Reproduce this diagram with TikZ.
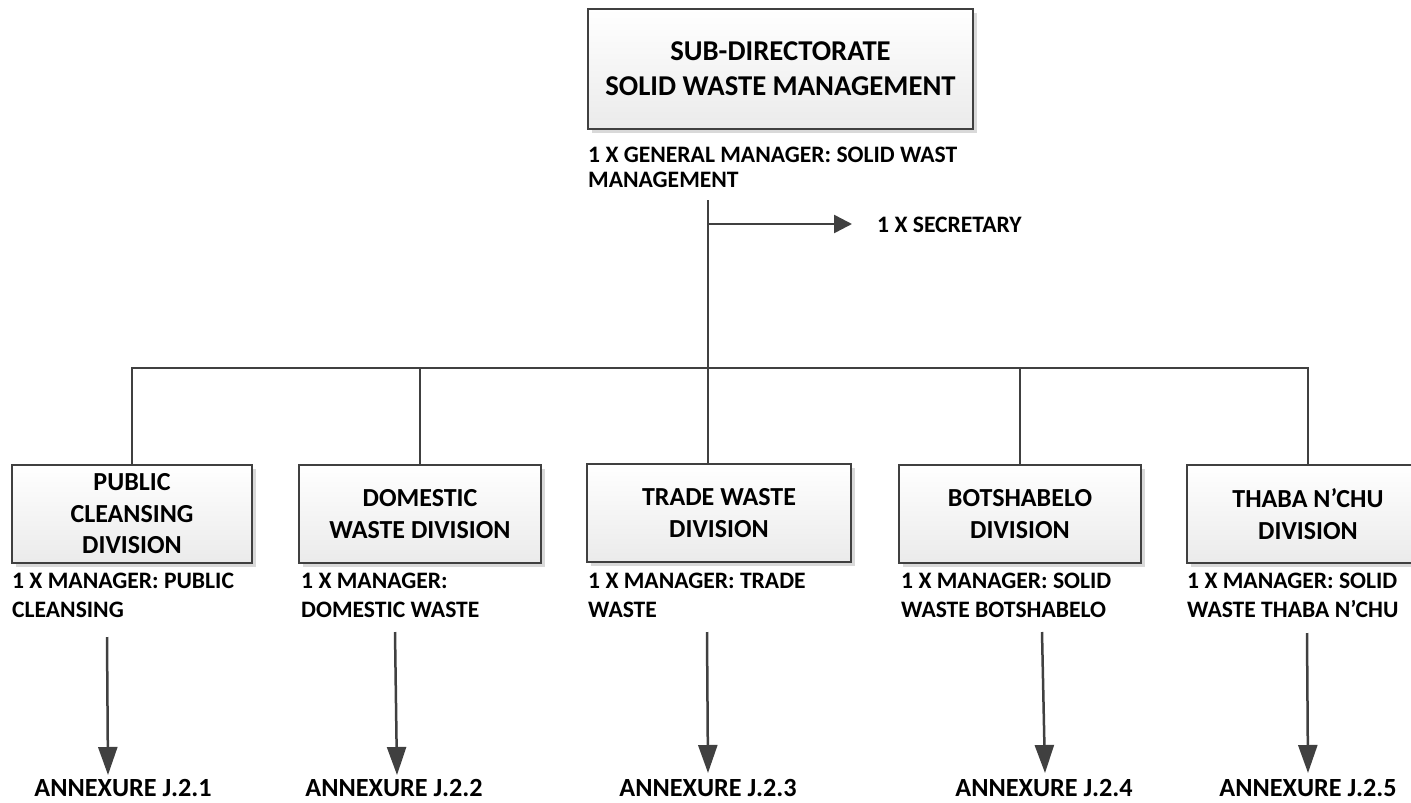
\documentclass[tikz,border=0pt]{standalone}
\usepackage{fontspec}
\setmainfont{Carlito}
\usetikzlibrary{arrows.meta,shadows}
\begin{document}
\begin{tikzpicture}[x=1pt,y=-1pt,
  ln/.style={draw=black!75, line width=2.5pt},
  arr/.style={ln, -{Triangle[length=28pt,width=19pt]}},
  sarr/.style={ln, -{Triangle[length=18pt,width=18pt]}},
  boxstyle/.style={draw=black!75, line width=2.5pt, top color=white, bottom color=black!8,
    drop shadow={shadow xshift=4pt, shadow yshift=-4pt, fill=black!15, opacity=1},
    align=center, inner sep=0pt, minimum height=98pt, minimum width=242pt,
    font=\bfseries\fontsize{26}{31.5}\selectfont},
  lab/.style={anchor=base west, align=left, inner sep=0pt, font=\bfseries\fontsize{23.6}{29}\selectfont},
  annex/.style={anchor=base, inner sep=0pt, font=\bfseries\fontsize{26.2}{30}\selectfont}]
\useasboundingbox (0,0) rectangle (1411,803);

% top box
\node[boxstyle, minimum width=385pt, minimum height=120pt, font=\bfseries\fontsize{28.7}{35}\selectfont]
  (top) at (780.5,69) {SUB-DIRECTORATE\\SOLID WASTE MANAGEMENT};
\node[lab, font=\bfseries\fontsize{23.6}{25}\selectfont] (gm) at (588,187) {1 X GENERAL MANAGER: SOLID WAST\\MANAGEMENT};

% secretary
\node[lab] (secr) at (877,232) {1 X SECRETARY};
\coordinate (trunk) at (708,200);
\coordinate (bus) at (708,368);
\coordinate (sec0) at (708,224);
\coordinate (sectip) at (852,224);

% division boxes
\node[boxstyle, minimum width=240pt] (b1) at (132,514) {PUBLIC\\CLEANSING\\DIVISION};
\node[boxstyle] (b2) at (420,514) {DOMESTIC\\WASTE DIVISION};
\node[boxstyle, minimum width=264pt] (b3) at (719,513) {TRADE WASTE\\DIVISION};
\node[boxstyle] (b4) at (1020,514) {BOTSHABELO\\DIVISION};
\node[boxstyle] (b5) at (1308,514) {THABA N’CHU\\DIVISION};

% manager labels (base = last line)
\node[lab] (m1) at (12,617) {1 X MANAGER: PUBLIC\\CLEANSING};
\node[lab] (m2) at (301,617) {1 X MANAGER:\\DOMESTIC WASTE};
\node[lab] (m3) at (588,617) {1 X MANAGER: TRADE\\WASTE};
\node[lab] (m4) at (901,617) {1 X MANAGER: SOLID\\WASTE BOTSHABELO};
\node[lab] (m5) at (1187,617) {1 X MANAGER: SOLID\\WASTE THABA N’CHU};

% annexures
\node[annex] (a1) at (123,796) {ANNEXURE J.2.1};
\node[annex] (a2) at (394,796) {ANNEXURE J.2.2};
\node[annex] (a3) at (708,796) {ANNEXURE J.2.3};
\node[annex] (a4) at (1044,796) {ANNEXURE J.2.4};
\node[annex] (a5) at (1308,796) {ANNEXURE J.2.5};

% arrow ends
\coordinate (s1) at (107,637);  \coordinate (t1) at (108,775);
\coordinate (s2) at (395,632);  \coordinate (t2) at (397,775);
\coordinate (s3) at (707,632);  \coordinate (t3) at (708,773);
\coordinate (s4) at (1042,632); \coordinate (t4) at (1045,773);
\coordinate (s5) at (1307,633); \coordinate (t5) at (1308,773);

% connectors
\draw[ln] (trunk) -- (bus);
\draw[sarr] (sec0) -- (sectip);
\draw[ln] (bus) -| (b1.north);
\draw[ln] (bus) -| (b2.north);
\draw[ln] (bus) -- (bus |- b3.north);
\draw[ln] (bus) -| (b4.north);
\draw[ln] (bus) -| (b5.north);
\foreach \i in {1,...,5} {\draw[arr] (s\i) -- (t\i);}
\end{tikzpicture}
\end{document}
